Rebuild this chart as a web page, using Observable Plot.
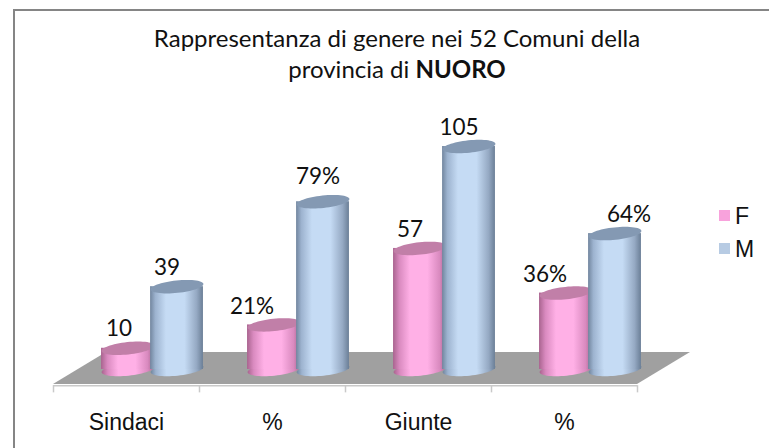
<!DOCTYPE html>
<html><head><meta charset="utf-8">
<script src="https://cdn.jsdelivr.net/npm/d3@7"></script>
<script src="https://cdn.jsdelivr.net/npm/@observablehq/plot@0.6"></script>
<style>
html,body{margin:0;padding:0;background:#fff}
#wrap{position:relative;width:769px;height:448px;overflow:hidden}
#wrap svg{position:absolute;left:0;top:0}
.frameT{position:absolute;left:13px;right:0;top:9px;height:2px;background:#858585}
.frameL{position:absolute;left:13px;top:9px;bottom:0;width:2px;background:#858585}
#title{position:absolute;left:0;width:794px;top:22px;text-align:center;font:24px/31px Lato,sans-serif;color:#111}
.lg{position:absolute;font:23px/24px "Liberation Sans",Arial,sans-serif;color:#111;left:735px}
.sw{position:absolute;left:719px;width:11px;height:11px}
</style></head><body><div id="wrap"></div>
<script>
const categories = ["Sindaci", "%", "Giunte", "%"];
const femmine = [10, 21, 57, 36];
const maschi = [39, 79, 105, 64];
const etichetteF = ["10", "21%", "57", "36%"];
const etichetteM = ["39", "79%", "105", "64%"];
const serie = ["F", "M"];
const coloriLegenda = ["#f8a2dc", "#b7cbe3"];

// Nudges of the hand-placed data labels, in pixels
const nudgeFx = [-9, -22, -10, -21];
const nudgeMx = [-10, -5, -10, 14];
const nudgeFy = [-19, -18, -19, -18];
const nudgeMy = [-19, -25, -19, -19];

const tiltedEllipse = {
  draw(ctx, size) {
    const r = Math.sqrt(size / Math.PI), a = r * 26.5, b = r * 6.2, t = -6 * Math.PI / 180;
    for (let i = 0; i < 60; ++i) {
      const u = i / 60 * 2 * Math.PI, X = a * Math.cos(u), Y = b * Math.sin(u);
      const px = X * Math.cos(t) - Y * Math.sin(t), py = X * Math.sin(t) + Y * Math.cos(t);
      i ? ctx.lineTo(px, py) : ctx.moveTo(px, py);
    }
    ctx.closePath();
  }
};

const gradients = () => {
  const ns = "http://www.w3.org/2000/svg";
  const defs = document.createElementNS(ns, "defs");
  const add = (id, stops) => {
    const g = document.createElementNS(ns, "linearGradient");
    g.setAttribute("id", id);
    for (const [o, c] of stops) {
      const s = document.createElementNS(ns, "stop");
      s.setAttribute("offset", o); s.setAttribute("stop-color", c); g.appendChild(s);
    }
    defs.appendChild(g);
  };
  add("pinkG", [[0, "#a9648f"], [.12, "#d98abf"], [.32, "#ffb0e6"], [.65, "#ffb0e6"], [.88, "#d98abf"], [1, "#a9648f"]]);
  add("blueG", [[0, "#71859e"], [.1, "#9db3cf"], [.3, "#c5dbf4"], [.65, "#c5dbf4"], [.88, "#95a9c3"], [1, "#6b7f97"]]);
  return defs;
};

const half = 0.181;           // half a cylinder width, in category units
const centreF = 0.51, centreM = 0.846;
const idx = categories.map((_, i) => i);

function cylinders(values, centre, grad, top) {
  const rows = idx.map(i => ({x: i + centre, v: values[i]}));
  return [
    Plot.dot(rows, {x: "x", y: () => 0, r: 1, symbol: tiltedEllipse, fill: grad}),
    Plot.rect(rows, {x1: d => d.x - half, x2: d => d.x + half, y1: () => 0, y2: "v", fill: grad}),
    Plot.dot(rows, {x: "x", y: "v", r: 1, symbol: tiltedEllipse, fill: top})
  ];
}
function labels(values, texts, centre, dxs, dys) {
  return idx.map(i => Plot.text([i], {
    x: () => i + centre, y: () => values[i], text: () => texts[i],
    dx: dxs[i], dy: dys[i], fontSize: 22.5, fontFamily: "Lato, sans-serif", fill: "#111"
  }));
}

const floor = [{y: -7.1, x1: 0, x2: 4}, {y: 8, x1: 0.363, x2: 4.363}];

const chart = Plot.plot({
  width: 769, height: 448, marginTop: 0, marginRight: 0, marginLeft: 0, marginBottom: 40,
  style: {background: "transparent"},
  x: {type: "linear", domain: [0, 4], range: [53, 637], axis: null},
  y: {type: "linear", domain: [0, 105], range: [369, 146], axis: null},
  marks: [
    gradients,
    Plot.areaX(floor, {y: "y", x1: "x1", x2: "x2", fill: "#a0a0a0"}),
    Plot.ruleY([-7.6], {x1: 0, x2: 4, stroke: "#c9c9c9", strokeWidth: 1.5}),
    Plot.ruleX([0, 1, 2, 3, 4], {y1: -7.6, y2: -11, stroke: "#c9c9c9", strokeWidth: 1.5}),
    ...cylinders(femmine, centreF, "url(#pinkG)", "#c17fa8"),
    ...cylinders(maschi, centreM, "url(#blueG)", "#8499b3"),
    ...labels(femmine, etichetteF, centreF, nudgeFx, nudgeFy),
    ...labels(maschi, etichetteM, centreM, nudgeMx, nudgeMy),
    Plot.axisX({
      ticks: idx.map(i => i + 0.5), tickFormat: v => categories[v - 0.5], tickSize: 0, tickPadding: 5,
      fontSize: 23, fontFamily: "Liberation Sans, Arial, sans-serif", label: null, color: "#111"
    })
  ]
});

const wrap = document.getElementById("wrap");
wrap.appendChild(chart);
wrap.insertAdjacentHTML("beforeend", `<div class="frameT"></div><div class="frameL"></div>
<div id="title">Rappresentanza di genere nei 52 Comuni della<br>provincia di <b>NUORO</b></div>`);
const ys = [210, 243];
serie.forEach((s, i) => {
  wrap.insertAdjacentHTML("beforeend",
    `<div class="sw" style="top:${ys[i]}px;background:${coloriLegenda[i]}"></div><div class="lg" style="top:${ys[i] - 6}px">${s}</div>`);
});
</script></body></html>
